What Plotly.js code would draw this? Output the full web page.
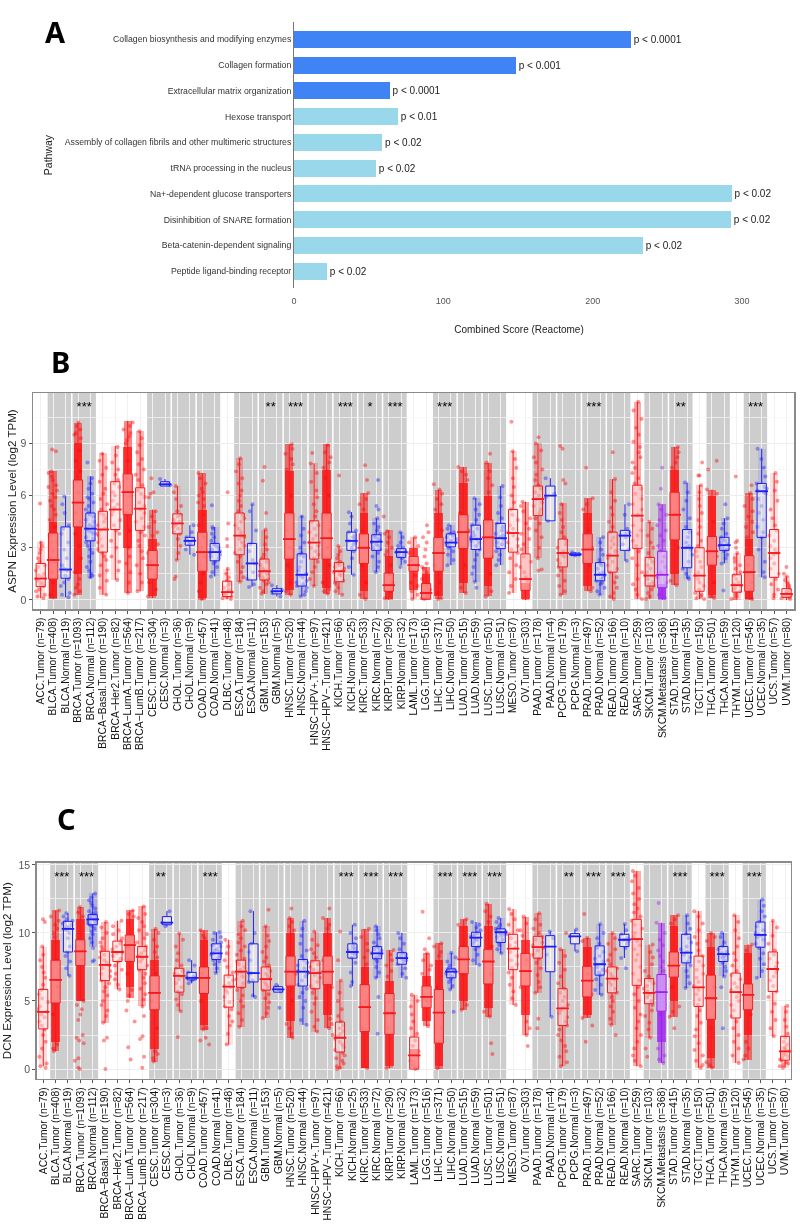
<!DOCTYPE html>
<html><head><meta charset="utf-8">
<script src="https://cdn.plot.ly/plotly-3.0.1.min.js"></script>
<style>html,body{margin:0;padding:0;background:#fff}#plot{width:800px;height:1229px;filter:blur(0.5px)}</style>
</head><body><div id="plot"></div>
<script>
// ---------- Panel A ----------
const pathways=["Collagen biosynthesis and modifying enzymes","Collagen formation","Extracellular matrix organization","Hexose transport","Assembly of collagen fibrils and other multimeric structures","tRNA processing in the nucleus","Na+-dependent glucose transporters","Disinhibition of SNARE formation","Beta-catenin-dependent signaling","Peptide ligand-binding receptor"];
const combinedScore=[225.5,148.5,64,69.5,59,54.8,293,292.5,233.5,22];
const pLabels=["p < 0.0001","p < 0.001","p < 0.0001","p < 0.01","p < 0.02","p < 0.02","p < 0.02","p < 0.02","p < 0.02","p < 0.02"];
const barColors=["#3f83f5","#3f83f5","#3f83f5","#98d8ea","#98d8ea","#98d8ea","#98d8ea","#98d8ea","#98d8ea","#98d8ea"];
// ---------- Panels B and C: categories ----------
const groups=["ACC.Tumor (n=79)","BLCA.Tumor (n=408)","BLCA.Normal (n=19)","BRCA.Tumor (n=1093)","BRCA.Normal (n=112)","BRCA−Basal.Tumor (n=190)","BRCA−Her2.Tumor (n=82)","BRCA−LumA.Tumor (n=564)","BRCA−LumB.Tumor (n=217)","CESC.Tumor (n=304)","CESC.Normal (n=3)","CHOL.Tumor (n=36)","CHOL.Normal (n=9)","COAD.Tumor (n=457)","COAD.Normal (n=41)","DLBC.Tumor (n=48)","ESCA.Tumor (n=184)","ESCA.Normal (n=11)","GBM.Tumor (n=153)","GBM.Normal (n=5)","HNSC.Tumor (n=520)","HNSC.Normal (n=44)","HNSC−HPV+.Tumor (n=97)","HNSC−HPV−.Tumor (n=421)","KICH.Tumor (n=66)","KICH.Normal (n=25)","KIRC.Tumor (n=533)","KIRC.Normal (n=72)","KIRP.Tumor (n=290)","KIRP.Normal (n=32)","LAML.Tumor (n=173)","LGG.Tumor (n=516)","LIHC.Tumor (n=371)","LIHC.Normal (n=50)","LUAD.Tumor (n=515)","LUAD.Normal (n=59)","LUSC.Tumor (n=501)","LUSC.Normal (n=51)","MESO.Tumor (n=87)","OV.Tumor (n=303)","PAAD.Tumor (n=178)","PAAD.Normal (n=4)","PCPG.Tumor (n=179)","PCPG.Normal (n=3)","PRAD.Tumor (n=497)","PRAD.Normal (n=52)","READ.Tumor (n=166)","READ.Normal (n=10)","SARC.Tumor (n=259)","SKCM.Tumor (n=103)","SKCM.Metastasis (n=368)","STAD.Tumor (n=415)","STAD.Normal (n=35)","TGCT.Tumor (n=150)","THCA.Tumor (n=501)","THCA.Normal (n=59)","THYM.Tumor (n=120)","UCEC.Tumor (n=545)","UCEC.Normal (n=35)","UCS.Tumor (n=57)","UVM.Tumor (n=80)"];
const greyPairs=[[1,2],[3,4],[9,10],[11,12],[13,14],[16,17],[18,19],[20,21],[22,23],[24,25],[26,27],[28,29],[32,33],[34,35],[36,37],[40,41],[42,43],[44,45],[46,47],[49,50],[51,52],[54,55],[57,58]];
// ---------- Panel B: ASPN ----------
const aspnLow=[.1,.05,.15,.3,1.25,.3,1.15,.4,.5,.1,6.55,2.3,2.6,0,1.35,.05,1.05,.75,.35,.2,.3,.2,.8,.35,.3,1.45,.05,1.6,0,2,.05,0,.05,2,.4,1.05,.2,2,.4,0,2.4,4.55,.3,2.55,.5,.3,.05,2.25,.05,.05,0,.85,1.2,.05,.1,2.1,0,0,1.3,.1,0];
const aspnQ1=[.77,1.2,1.25,4.2,3.4,2.75,4.05,4.9,4,1.2,6.55,3.8,3.15,1.65,2.25,.2,2.6,1.15,1.15,.35,2.35,.8,2.35,2.35,1.05,2.85,2.1,2.85,.5,2.45,1.65,.05,1.65,3.05,2.95,2.9,2.4,2.95,2.75,.55,4.85,4.55,1.9,2.55,2.1,1.1,1.6,2.85,2.95,.8,.7,3.45,1.85,.5,2,2.85,.45,.5,3.6,1.3,.15];
const aspnMed=[1.23,2.3,1.75,5.6,4.1,4.05,5.2,6.2,5.25,2,6.65,4.4,3.4,2.75,2.75,.45,3.7,2.1,1.65,.5,3.5,1.45,3.3,3.55,1.65,3.4,3,3.35,.85,2.75,2,.4,2.7,3.3,3.9,3.5,3.6,3.55,3.85,1.2,5.8,6,2.7,2.62,2.9,1.45,2.55,3.7,4.85,1.4,1.45,4.9,3,1.4,2.8,3.15,.85,1.6,6.25,2.7,.35];
const aspnQ3=[2.1,3.85,4.2,6.9,5,5.1,6.8,7.25,6.45,2.85,6.8,4.95,3.6,3.9,3.25,1.08,5,3.25,2.35,.65,5,2.65,4.55,5,2.15,3.9,3.8,3.75,1.55,2.95,2.5,.95,3.6,3.8,4.9,4.3,4.6,4.4,5.2,2.65,6.55,6.55,3.5,2.7,3.8,2.15,3.9,4,6.6,2.45,2.8,6.2,4.05,3,3.65,3.6,1.45,2.55,6.7,4.05,.65];
const aspnHigh=[3.35,7.4,5.95,10.2,7.1,8.45,8.85,10.3,9.7,5.2,6.95,6.55,4.3,7.3,4.2,1.8,8.15,5.5,4.05,.85,8.95,4.85,7.85,8.95,3.1,5.05,6.15,4.7,4,3.9,3.6,1.9,6.35,4.3,7.65,5.85,7.9,6.55,8.55,5.65,9,7,5.55,2.75,5.85,3.6,6.95,5.5,11.4,4.5,5.5,8.8,6.75,6.6,6.35,4.7,2.7,6.15,8.7,7.3,1.35];
const aspnDense=[null,[.1,4.5],null,[1.5,9],null,null,null,[3,8.8],null,[.2,3.5],null,null,null,[.1,5.2],null,null,null,null,null,null,[.6,7.4],null,null,[.7,7.5],null,null,[.5,5],null,[.05,2.5],null,[.6,3],[.05,1.5],[.2,5],null,[1,6.7],null,[.8,6],null,null,[.05,1],null,null,null,null,[.8,5],null,null,null,null,null,[.05,.9],[1.5,7.5],null,null,[.3,6],null,null,[.05,3.5],null,null,null];
const aspnPoints=[
[.1,.2,.3,.5,.6,.8,.9,1,1.1,1.2,1.3,1.4,1.5,1.7,1.9,2,2.2,2.4,2.7,2.9,3.1,3.3,5.55],
[4.6,4.9,5.2,5.4,5.7,5.9,6.1,6.3,6.5,6.6,6.9,7.1,7.3,7.4,8.55,8.65,.3,1,1.6,2.2,2.8,3.3,3.7,4.2],
[.15,.3,.4,.8,1,1.2,1.4,1.7,1.8,2,2.4,2.9,3.3,3.8,4.1,4.3,5,5.5,5.95],
[9.3,9.5,9.6,9.8,10,10.2,.3,.5,.7,.9,1.2,1.6,2.4,3.1,3.8,4.5,5,5.6,6.2,6.8,7.4,8,8.6],
[1.3,1.4,1.5,1.7,1.9,2.2,2.5,2.7,2.9,3.1,3.3,3.5,3.6,3.8,3.9,4,4.1,4.2,4.3,4.5,4.6,4.8,4.9,5,5.2,5.4,5.6,5.8,5.9,6.1,6.4,6.7,7,7.9],
[.3,.7,1.1,1.4,1.7,2,2.3,2.5,2.7,2.9,3.1,3.3,3.5,3.7,3.8,4,4.1,4.3,4.5,4.7,4.9,5,5.2,5.5,5.8,6.1,6.4,6.8,7.2,7.6,8,8.4],
[1.15,1.7,2.2,2.5,3,3.4,3.8,4,4.3,4.6,4.9,5.1,5.3,5.5,5.7,6,6.2,6.5,6.7,6.9,7.2,7.5,7.9,8.3,8.8],
[.4,1,1.6,2.1,2.5,3,9,9.2,9.4,9.6,9.8,10,10.2,4,5,6,7,8],
[.5,1,1.5,2,2.4,2.8,3.1,3.4,3.7,3.9,4.2,4.5,4.7,5,5.2,5.4,5.6,5.9,6.1,6.3,6.6,6.9,7.2,7.5,7.8,8.1,8.5,8.9,9.3,9.7],
[3.7,3.9,4.2,4.5,4.8,5.1,5.9,6.1,6.2,7,.2,.6,1,1.4,1.8,2.2,2.7,3.2],
[6.6,6.7,6.95],
[1.2,1.35,2.3,2.7,3.1,3.5,3.8,3.9,4.1,4.2,4.3,4.4,4.5,4.6,4.8,4.9,5.1,5.4,5.8,6.2,6.55],
[2.6,2.9,3.2,3.3,3.4,3.5,3.6,3.9,4.3],
[5.4,5.6,5.8,6,6.2,6.4,6.7,7,7.3,.05,.5,1,1.5,2,2.5,3,3.6,4.3,4.9],
[1.35,1.6,1.9,2.1,2.2,2.4,2.5,2.6,2.7,2.8,2.9,3,3.1,3.2,3.4,3.6,3.8,4.1,4.2,5.45],
[.05,.1,.15,.2,.3,.35,.4,.45,.5,.6,.7,.8,.9,1,1.1,1.3,1.5,1.8,3.1,3.5,4.4,6.2],
[1.05,1.3,1.6,1.9,2.2,2.5,2.7,2.9,3.1,3.3,3.5,3.6,3.7,3.9,4.1,4.3,4.5,4.7,4.9,5.1,5.4,5.7,6,6.3,6.7,7,7.4,7.8,8.15],
[.75,.9,1.2,1.6,2.1,2.3,2.8,3.2,4,5.1,5.5],
[.35,.5,.7,.9,1,1.1,1.2,1.3,1.4,1.5,1.6,1.7,1.8,2,2.2,2.4,2.6,2.9,3.2,3.6,4.05,5,6.85,7.65],
[.2,.4,.5,.6,.85],
[7.5,7.8,8.1,8.4,8.7,8.95,.3,.5,1,2,3,4,5,6],
[.2,.3,.5,.7,.8,.9,1,1.1,1.3,1.4,1.5,1.7,1.9,2.2,2.5,2.6,2.7,3,3.3,3.7,4.1,4.8],
[.8,1.2,1.6,1.9,2.2,2.4,2.6,2.8,3,3.1,3.3,3.5,3.7,3.9,4.1,4.3,4.5,4.8,5.1,5.5,5.9,6.3,6.8,7.3,7.85,8.45],
[7.6,7.9,8.2,8.5,8.9,.35,.5,.6,1,2,3,4,5,6,7],
[.3,.5,.7,.9,1,1.1,1.2,1.4,1.5,1.6,1.7,1.8,1.9,2,2.1,2.2,2.4,2.6,2.8,3.1,7.15],
[1.45,1.9,2.4,2.8,3,3.2,3.3,3.4,3.5,3.6,3.7,3.9,4,4.4,4.8,5.05],
[.05,.3,5.2,5.5,5.8,6.15,6.9,7.75,1,2,3,4],
[1.6,1.9,2.2,2.5,2.7,2.9,3,3.1,3.2,3.3,3.4,3.5,3.6,3.7,3.8,4,4.2,4.4,4.7,5.2,5.4,6.9],
[2.6,2.8,3,3.3,3.6,3.8,3.95,4.8,.1,.5,1,1.5,2],
[1.9,2.2,2.4,2.5,2.6,2.7,2.75,2.8,2.9,3,3.1,3.3,3.6,3.9],
[.05,.3,.5,.8,1,3.1,3.3,3.6,1.4,1.8,2,2.3,2.7],
[.05,.1,.2,.3,.6,.9,1.6,1.8,1.9,2.1,2.5,2.9,3.3,3.6,3.9,4.3,1.2],
[.05,.1,.4,5.2,5.5,5.8,6.1,6.35,6.65,1,2,3,4],
[2,2.3,2.6,2.8,3,3.1,3.2,3.3,3.4,3.5,3.6,3.7,3.8,3.9,4.1,4.3],
[.4,.7,6.9,7.2,7.4,7.65,2,3,4,5],
[.7,1.05,1.5,1.9,2.3,2.6,2.9,3.1,3.3,3.4,3.5,3.6,3.7,3.9,4.1,4.3,4.6,4.9,5.2,5.5,5.85],
[.2,.5,6.2,6.6,7,7.4,7.9,8.4,1.5,2.5,3.5,4.5],
[2,2.3,2.6,2.8,3,3.2,3.3,3.5,3.6,3.7,3.8,4,4.2,4.4,4.7,5,5.4,5.9,6.55],
[.4,.8,1.2,1.6,2,2.4,2.7,2.9,3.1,3.3,3.5,3.7,3.9,4.1,4.3,4.6,4.9,5.2,5.6,6,6.5,7,7.6,8.1,8.55,10.25],
[1.1,1.3,1.6,1.9,2.2,2.5,2.9,3.2,3.5,3.8,4.1,4.4,4.7,5.1,5.4,5.65],
[1.7,1.75,2.4,3,3.6,4,4.4,4.7,5,5.2,5.4,5.6,5.8,6,6.2,6.4,6.6,6.9,7.2,7.5,7.9,8.2,8.6,9,9.35],
[4.55,5.9,6.1,7],
[.3,.5,.8,1.1,1.4,1.7,1.9,2.1,2.3,2.5,2.6,2.8,3,3.2,3.4,3.6,3.9,4.2,4.6,5,5.5,6.7,6.9,8.7,8.85],
[2.55,2.62,2.75],
[.5,.7,5.2,5.5,5.85,7.6,2,3,4],
[.3,.5,.7,.9,1,1.1,1.2,1.3,1.4,1.5,1.6,1.8,2,2.1,2.3,2.6,2.9,3.3,3.6],
[.05,.2,.4,.7,1,1.3,1.6,1.8,2,2.2,2.4,2.6,2.8,3,3.2,3.4,3.6,3.9,4.2,4.5,4.9,5.3,5.7,6.2,6.95,8.5],
[2.25,2.9,3.2,3.6,3.7,3.8,3.9,4.1,4.9,5.5],
[.05,.3,.6,.9,1.2,1.6,2,2.4,2.8,3.1,3.4,3.7,4,4.3,4.6,4.9,5.2,5.5,5.8,6.1,6.4,6.7,7,7.3,7.6,7.9,8.2,8.5,8.8,9.1,9.5,9.9,10.4,10.9,11.4],
[.05,.2,.4,.6,.8,.9,1,1.2,1.4,1.6,1.8,2,2.2,2.4,2.7,3,3.3,3.7,4.1,4.5],
[.1,.3,1,1.3,1.6,1.9,2.2,2.5,2.8,3.1,3.4,3.7,4,4.3,4.6,4.9,5.2,5.5,6.4,7.6],
[.85,1.1,7.6,7.9,8.2,8.5,8.8,3,5],
[1.2,1.3,1.5,1.8,2.2,2.6,2.9,3,3.1,3.3,3.6,3.9,4.2,4.7,5.2,5.7,6.2,6.75],
[.05,.1,.2,.3,.4,.6,.8,1,1.2,1.4,1.6,1.9,2.2,2.5,2.8,3.1,3.4,3.8,4.2,4.6,5,5.4,5.8,6.2,6.6,7.15,7.15,7.9],
[6.1,6.35,7.5,8,.1,.2,1,2.5,4.5],
[.55,2.1,2.4,2.6,2.8,2.9,3,3.1,3.2,3.3,3.4,3.5,3.6,3.8,4.1,4.4,4.7,5.5],
[.05,.1,.2,.3,.4,.5,.6,.7,.8,.9,1,1.2,1.4,1.6,1.8,2,2.2,2.4,2.7,3,3.3,3.4,7.1],
[3.6,3.9,4.2,4.5,4.8,5.1,5.4,5.8,6.15,6.6,.05,1,2],
[1.3,1.6,2.2,2.9,3.6,3.9,4.2,4.6,5,5.4,5.8,6.1,6.2,6.3,6.4,6.5,6.7,7.1,7.6,8.1,8.7],
[.1,.3,.6,.9,1.2,1.5,1.8,2.1,2.4,2.6,2.7,2.9,3.1,3.4,3.7,4,4.3,4.7,5.2,5.7,6.3,6.8,7.3],
[.05,.1,.15,.2,.25,.3,.35,.4,.5,.6,.7,.8,.9,1,1.15,1.35,1.5,1.9]];
const aspnStarX=[3.5,18.5,20.5,24.5,26.5,28.5,32.5,44.5,51.5,57.5];
const aspnStars=["***","**","***","***","*","***","***","***","**","***"];
// ---------- Panel C: DCN ----------
const dcnLow=[.2,1.3,6.85,5,9,3.4,5.85,5.2,4.6,.55,10.5,4.25,6.3,2.9,7.05,1.8,3.1,5.3,3.75,5.65,2.3,3.25,2.75,3,0,6.1,.05,6.7,.05,6.7,0,3.15,0,5.85,4.35,7.65,3.85,8.5,4.7,2.5,5.6,3.85,.2,8.65,3.75,5.45,3.25,8.15,.2,2.3,.45,3.85,5.95,.1,.1,6.8,.45,.7,6.7,2.4,.1];
const dcnQ1=[2.95,4.85,8.6,7.6,10.6,6.5,7.9,7.9,7.3,4.35,10.6,5.65,6.55,5.55,8.05,4.55,6,6.4,5.8,5.65,6.1,6.1,5.9,6.2,1.25,8.15,2.75,8.1,2.55,7.7,0,4.5,1.9,6.7,7,9,6.25,9.3,7.3,6.1,8.15,7.15,3.2,9.2,5.3,6.9,5.6,9,6.15,4.8,4.25,6.75,7.8,4.6,3.65,7.9,3.75,4.35,8.95,5.7,.65];
const dcnMed=[4.2,6.55,10.3,8.65,11,7.65,8.6,9.1,8.25,5.6,10.75,6.85,6.7,6.7,8.5,6.05,7.15,7.05,6.6,5.85,7.15,7.15,7.05,7.15,2.3,8.6,4.55,8.5,4.1,8.15,1,5.3,4.15,7.15,8.05,9.65,7.9,10.05,8.85,7.2,8.95,9,4.45,9.75,6.5,7.7,6.65,9.5,9.55,5.6,5.65,7.6,8.55,6,5.2,8.45,5.65,5.45,9.85,7.35,1.3];
const dcnQ3=[5.85,8,10.85,9.5,11.35,8.65,9.4,9.85,9,6.85,11.2,7.4,7.1,7.5,9.2,6.9,8,9.2,7.5,6.05,8.3,8.05,7.95,8.3,3.45,9.2,6.2,9,5.55,8.55,2.35,6.1,5.85,7.35,9,10.05,8.8,10.3,9.9,8.5,9.75,9.8,5.9,9.95,7.55,9.05,7.5,9.9,11,6.65,6.95,8.6,9.9,8.3,6.9,9,7.05,6.25,10.8,8.6,2.4];
const dcnHigh=[9,11.65,11.45,11.9,12.9,10.8,10.9,11.65,11.95,10.3,11.6,9.95,8,10.2,10.05,9.5,10.9,11.6,10.5,6.2,11.1,10.9,10.1,11.1,6.5,10.6,10.3,10.5,8.75,10,5.45,8.5,9.25,8.55,11,10.8,12.15,11.1,11.75,11.2,11.45,10.1,8.8,10.25,9.65,10.65,10,10.65,14.55,9.15,10.75,11.3,11.3,11.6,10,10,11.3,9.15,12.45,10.9,4.65];
const dcnDense=[null,[2,9.5],null,[5,11],null,null,null,[6,11],null,[1.5,8],null,null,null,[3.2,9.5],null,null,null,null,null,null,[3.5,10],null,null,[4,10],null,null,[.1,7.5],null,[.2,6.5],null,[.05,1.5],[3.5,6.8],[.2,8],null,[5,10.5],null,[4.5,10.5],null,null,[4,9.5],null,null,null,null,[4,9],null,null,null,null,null,[2,7],[5,10.5],null,null,[.8,9],null,null,[2.5,8.5],null,null,null];
const dcnPoints=[
[.1,.2,.4,.9,1.5,2,2.5,2.9,3.2,3.5,3.8,4,4.2,4.4,4.6,4.9,5.2,5.5,5.8,6.2,6.7,7.1,7.5,8,8.4,9,10.8,11],
[1.3,1.5,1.8,9.7,10,10.3,10.6,10.9,11.2,11.65,4,6,8],
[6.85,7.4,7.9,8.3,8.6,9,9.6,10,10.2,10.3,10.4,10.5,10.6,10.7,10.8,10.9,11,11.2,11.45],
[0,.1,.6,.8,1.9,2.1,2.3,2.5,3.6,4,4.4,4.7,5,11.2,11.5,11.9,8,9],
[7.9,8,8.9,9.3,9.6,9.9,10.1,10.3,10.5,10.6,10.7,10.8,10.9,11,11,11.1,11.2,11.3,11.4,11.5,11.6,11.8,12,12.2,12.4,12.6,12.9],
[0,2.1,2.3,3.4,3.9,4.3,4.7,5,5.4,5.7,6,6.3,6.5,6.8,7,7.2,7.4,7.6,7.8,8,8.2,8.4,8.6,8.8,9,9.3,9.6,10,10.4,10.8],
[5.85,6.2,6.6,7,7.3,7.6,7.9,8.1,8.3,8.5,8.6,8.8,9,9.2,9.4,9.6,9.9,10.2,10.5,10.9],
[.7,1.6,3.5,4.3,5,5.4,5.8,7,8,9,11.2,11.4,11.65],
[.1,.9,2.2,2.4,3.9,4.6,5.1,5.5,5.9,6.3,6.7,7,7.3,7.6,7.9,8.1,8.3,8.5,8.7,9,9.3,9.6,9.9,10.2,10.5,10.8,11.1,11.4,11.95],
[.55,.8,1.1,1.3,8.2,8.6,9,9.5,10,10.3,3,5,7],
[10.5,10.75,11.6],
[2.35,4.25,4.7,5.1,5.5,5.7,6,6.3,6.6,6.8,6.9,7,7.2,7.4,7.6,8,8.5,9,9.5,9.95],
[6.3,6.5,6.6,6.7,6.7,6.8,7.1,7.6,8],
[1.8,2.1,2.3,2.9,3,9.6,9.8,10.2,5,7],
[7.05,7.4,7.7,7.9,8,8.2,8.3,8.4,8.5,8.6,8.7,8.8,9,9.1,9.3,9.5,9.7,10,10.05],
[1.8,2.6,3.2,3.5,3.9,4.4,4.6,4.9,5.3,5.6,5.8,6,6.1,6.3,6.5,6.8,7.1,7.5,8,8.5,9,9.5],
[3.1,3.6,4.1,4.6,5,5.4,5.8,6,6.3,6.6,6.8,7,7.1,7.3,7.5,7.7,7.9,8.1,8.4,8.7,9,9.3,9.6,9.9,10.2,10.5,10.9],
[5.3,5.4,6.4,6.5,7,7.05,8,8.6,9.2,10,11.6],
[3.75,4.1,4.5,4.9,5.2,5.5,5.8,6,6.2,6.4,6.6,6.8,7,7.2,7.4,7.6,7.9,8.2,8.6,9,9.4,9.8,10.5,11.7],
[4.5,5.7,5.85,6,6.2],
[2.3,2.6,3,3.3,10.2,10.5,10.8,11.1,11.8,7,5],
[3.25,3.6,4.5,5,5.3,5.6,5.9,6.2,6.5,6.8,7,7.1,7.2,7.4,7.6,7.8,8,8.3,8.7,9.2,9.8,10.3,10.9],
[2.75,3.1,3.6,4.2,4.8,5.2,5.6,5.9,6.1,6.4,6.7,6.9,7.1,7.3,7.5,7.7,7.9,8.2,8.5,8.8,9.1,9.5,10.1],
[2.5,3,3.3,3.7,10.3,10.6,11.1,11.8,6,8],
[0,.1,.2,.4,.6,.8,1,1.2,1.4,1.6,1.8,2,2.2,2.4,2.6,2.8,3,3.2,3.5,3.9,4.4,5,5.6,6.5,8,10.1],
[6.1,6.4,7.1,7.8,8.2,8.4,8.5,8.6,8.7,8.8,8.9,9,9.2,9.6,10,10.6],
[.05,7.7,8.2,8.7,9.2,9.7,10.3,3,5],
[2.6,5.3,6.7,7.1,7.5,7.9,8.1,8.2,8.3,8.4,8.5,8.6,8.7,8.8,8.9,9,9.3,9.6,9.9,10.2,10.5],
[.05,6.8,7.2,7.6,8,8.4,8.75,3,5],
[6.7,7,7.4,7.7,7.9,8,8.1,8.2,8.3,8.4,8.5,8.8,9.2,9.6,10],
[0,.1,.3,1.7,2.1,2.6,3,3.5,4,4.6,5,5.45,.6,1,1.3],
[3.15,7,7.3,7.6,8,8.5,8.8,9.6,11.55,5],
[.05,8.3,8.6,9,9.25,3,6],
[4.2,5.85,6.1,6.4,6.6,6.8,6.9,7,7.1,7.2,7.3,7.4,7.6,7.9,8.2,8.55],
[4.35,4.7,10.6,11,7,9],
[7.65,8,8.4,8.8,9,9.2,9.4,9.5,9.6,9.7,9.8,9.9,10,10.2,10.4,10.6,10.8],
[1.1,1.9,3.85,4.2,10.8,11.2,11.6,12.15,7,9],
[8.5,8.8,9.1,9.3,9.5,9.7,9.8,9.9,10,10.1,10.2,10.3,10.4,10.6,10.8,11.1],
[4.7,5.2,5.7,6.2,6.7,7.1,7.4,7.7,8,8.3,8.6,8.9,9.1,9.3,9.6,9.9,10.2,10.6,11,11.4,11.75],
[1.7,2.5,3,3.5,9.8,10.2,10.7,11.2,6,8],
[3,3.7,5.6,6,6.4,6.9,7.4,7.8,8.1,8.4,8.7,8.9,9.1,9.3,9.5,9.7,10,10.3,10.6,11,11.45],
[3.85,8.4,9.6,10.1],
[.2,.5,.9,1.3,1.7,2.1,2.5,2.9,3.2,3.5,3.8,4.1,4.3,4.5,4.7,5,5.3,5.6,5.9,6.3,6.8,7.3,7.8,8.3,8.8,10],
[8.65,9.75,10.25],
[2,3.2,3.75,9.4,9.65,11.4,7,5.5],
[5.45,5.8,6.2,6.6,6.9,7.1,7.3,7.5,7.7,7.9,8.1,8.3,8.6,8.9,9.2,9.6,10,10.65],
[2.5,3.25,3.7,4.2,4.6,5,5.3,5.6,5.9,6.2,6.4,6.6,6.8,7,7.2,7.4,7.7,8,8.4,8.8,9.2,9.6,10],
[7.4,8.15,8.9,9.2,9.4,9.5,9.6,9.9,10.2,10.65],
[.2,.6,1,1.5,2,2.5,3,3.5,4,4.5,5,5.5,6,6.5,7,7.5,8,8.4,8.8,9.1,9.4,9.7,10,10.3,10.6,10.9,11.2,11.5,11.8,12.1,12.5,12.9,13.3,13.8,14.2,14.55],
[.9,1.5,2.3,2.9,3.4,3.9,4.3,4.7,5,5.3,5.5,5.7,5.9,6.1,6.3,6.5,6.8,7.2,7.7,8.2,8.6,9.15],
[.45,.7,1,1.5,7.2,7.5,7.9,8.3,8.7,9.1,9.5,10,10.75,12.2,4],
[3,3.85,4.2,4.6,10.7,11,11.3,6,8],
[5.95,6.3,6.8,7.2,7.6,7.9,8.2,8.4,8.6,8.8,9,9.3,9.6,9.9,10.3,10.7,11.3],
[.1,.3,.6,1,1.4,1.9,2.4,2.9,3.4,3.9,4.3,4.7,5.1,5.5,5.8,6.1,6.4,6.7,7,7.3,7.6,7.9,8.3,8.7,9.2,9.7,10.2,10.7,11.2,11.6],
[.1,.3,.5,9.4,9.7,10,6,3],
[3,6,6.8,7.2,7.5,7.8,8,8.2,8.3,8.4,8.5,8.6,8.8,9,9.3,9.7,10],
[.45,1,1.5,2,2.5,3,3.5,3.9,4.3,4.7,5,5.3,5.6,5.8,6,6.3,6.6,6.9,7.2,7.6,8,8.5,9,9.6,10.2,10.8,11.3],
[.7,1,1.5,2,8.7,9.15,4,6],
[6.7,7.2,7.7,8.1,8.5,8.9,9.2,9.5,9.7,9.8,9.9,10,10.2,10.5,10.8,11.2,11.6,12,12.45],
[2.4,3,3.6,4.2,4.8,5.3,5.7,6.1,6.5,6.8,7.1,7.3,7.5,7.8,8.1,8.4,8.7,9.2,9.8,10.4,10.9],
[.1,.2,.3,.4,.5,.6,.7,.8,.9,1,1.1,1.2,1.3,1.4,1.5,1.6,1.8,2,2.3,2.6,3.1,3.6,4.2,4.65]];
const dcnStarX=[1.5,3.5,9.5,13.5,24.5,26.5,28.5,32.5,34.5,36.5,42.5,44.5,46.5,51.5,54.5,57.5];
const dcnStars=["***","***","**","***","***","***","***","***","***","***","**","***","***","***","***","***"];

// ---------- Page geometry (pixels) ----------
const W=800,H=1229;
const dx=(a,b)=>[a/W,b/W], dy=(top,bot)=>[1-bot/H,1-top/H];
const FONT="Liberation Sans, Arial, sans-serif";
const kinds=[{key:"Tumor",color:"rgb(245,25,30)",point:"rgb(255,0,0)",rgb:"255,10,10"},
             {key:"Normal",color:"rgb(30,30,245)",point:"rgb(30,30,255)",rgb:"30,30,255"},
             {key:"Metastasis",color:"rgb(160,32,240)",point:"rgb(160,32,240)",rgb:"160,32,240"}];
const kindOf=g=>g.includes("Normal")?"Normal":g.includes("Metastasis")?"Metastasis":"Tumor";
const idx=groups.map((_,i)=>i);
const sampleSize=groups.map(g=>+g.match(/n=(\d+)/)[1]);

function panelTraces(ax,ay,low,q1,med,q3,high,dense,points,starX,stars,starY){
  const t=[],tag={xaxis:ax,yaxis:ay,showlegend:false,hoverinfo:"skip"};
  // pale tint over the whisker span, stronger for larger groups
  kinds.forEach(k=>{
    const ids=idx.filter(i=>kindOf(groups[i])===k.key&&sampleSize[i]>=30);
    t.push({...tag,type:"bar",x:ids,base:ids.map(i=>low[i]),y:ids.map(i=>high[i]-low[i]),width:0.62,marker:{color:ids.map(i=>`rgba(${k.rgb},${Math.min(.5,.06+sampleSize[i]/900).toFixed(2)})`),line:{width:0}}});
  });
  // solid part of the crowded point clouds
  kinds.forEach(k=>{
    const ids=idx.filter(i=>kindOf(groups[i])===k.key&&dense[i]);
    if(ids.length) t.push({...tag,type:"bar",x:ids,base:ids.map(i=>dense[i][0]),y:ids.map(i=>dense[i][1]-dense[i][0]),width:0.68,marker:{color:`rgba(${k.rgb},0.72)`,line:{width:0}}});
  });
  kinds.forEach(k=>{
    const ids=idx.filter(i=>kindOf(groups[i])===k.key);
    const xs=[],ys=[];
    ids.forEach(i=>points[i].forEach(v=>{xs.push(i);ys.push(v);}));
    t.push({...tag,type:"box",x:xs,y:ys,boxpoints:"all",jitter:1,pointpos:0,width:0.9,fillcolor:"rgba(0,0,0,0)",line:{width:0,color:"rgba(0,0,0,0)"},marker:{color:k.point,size:4,opacity:0.42,line:{width:0}}});
  });
  kinds.forEach(k=>{
    const ids=idx.filter(i=>kindOf(groups[i])===k.key);
    t.push({...tag,type:"box",x:ids,q1:ids.map(i=>q1[i]),median:ids.map(i=>med[i]),q3:ids.map(i=>q3[i]),lowerfence:ids.map(i=>low[i]),upperfence:ids.map(i=>high[i]),boxpoints:false,whiskerwidth:0,width:0.74,fillcolor:"rgba(255,255,255,0.42)",line:{color:k.color,width:1}});
    t.push({...tag,type:"scatter",mode:"markers",x:ids,y:ids.map(i=>med[i]),marker:{symbol:"line-ew",size:9,color:k.color,line:{color:k.color,width:1.8}}});
  });
  t.push({...tag,type:"scatter",mode:"text",x:starX,y:starX.map(()=>starY),text:stars,textposition:"middle center",textfont:{size:13,color:"#000",family:FONT}});
  return t;
}

const traceA={type:"bar",orientation:"h",x:combinedScore,y:pathways,xaxis:"x",yaxis:"y",width:0.66,marker:{color:barColors,line:{width:0}},text:pLabels,textposition:"outside",textangle:0,constraintext:"none",cliponaxis:false,textfont:{size:10,color:"#222",family:FONT},showlegend:false,hoverinfo:"skip"};

const data=[traceA,
 ...panelTraces("x2","y2",aspnLow,aspnQ1,aspnMed,aspnQ3,aspnHigh,aspnDense,aspnPoints,aspnStarX,aspnStars,11.05),
 ...panelTraces("x3","y3",dcnLow,dcnQ1,dcnMed,dcnQ3,dcnHigh,dcnDense,dcnPoints,dcnStarX,dcnStars,14.05)];

const bands=(ax,ay)=>greyPairs.map(p=>({type:"rect",xref:ax,yref:ay+" domain",x0:p[0]-.44,x1:p[1]+.44,y0:0,y1:1,fillcolor:"#cdcdcd",line:{width:0},layer:"below"}));
const catX=(domain,range)=>({domain,range,type:"linear",tickmode:"array",tickvals:idx,ticktext:groups,tickangle:-90,tickfont:{size:10.3,color:"#111",family:FONT},ticks:"outside",ticklen:3,tickcolor:"#555",showgrid:true,gridcolor:"#f1f1f1",gridwidth:1,zeroline:false,showline:true,mirror:true,linecolor:"#8a8a8a",linewidth:1.5,automargin:false});
const valY=(domain,range,title,vals,minorStep,anchor,standoff)=>({domain,range,anchor,tickmode:"array",tickvals:vals,ticktext:vals.map(String),tickfont:{size:10.5,color:"#555",family:FONT},ticks:"outside",ticklen:3,tickcolor:"#555",showgrid:true,gridcolor:"#eeeeee",gridwidth:1,minor:{dtick:minorStep,tick0:0,showgrid:true,gridcolor:"#f6f6f6",gridwidth:.7,ticks:""},zeroline:false,showline:true,mirror:true,linecolor:"#8a8a8a",linewidth:1.5,automargin:false,title:{text:title,font:{size:11.6,color:"#222",family:FONT},standoff}});

const layout={width:W,height:H,margin:{l:0,r:0,t:0,b:0,pad:0},paper_bgcolor:"#fff",plot_bgcolor:"#fff",barmode:"overlay",bargap:0,boxmode:"overlay",showlegend:false,font:{family:FONT},
 xaxis:{domain:dx(294,744),range:[0,(744-294)/1.4933],anchor:"y",tickmode:"array",tickvals:[0,100,200,300],ticks:"outside",ticklen:4,tickcolor:"rgba(0,0,0,0)",tickfont:{size:9,color:"#555",family:FONT},showgrid:false,zeroline:false,showline:false,automargin:false,title:{text:"Combined Score (Reactome)",font:{size:10,color:"#222",family:FONT},standoff:21}},
 yaxis:{domain:dy(22,288),range:[9.66,-.67],type:"category",anchor:"x",categoryorder:"array",categoryarray:pathways,ticks:"",tickfont:{size:8.7,color:"#333",family:FONT},showgrid:false,zeroline:false,showline:true,linecolor:"#777",linewidth:1,automargin:false,title:{text:"Pathway",font:{size:10.5,color:"#222",family:FONT},standoff:10}},
 xaxis2:{...catX(dx(33,794),[-.62,60.6]),anchor:"y2"},
 yaxis2:valY(dy(393,609),[-.52,11.9],"ASPN Expression Level (log2 TPM)",[0,3,6,9],1.5,"x2",1),
 xaxis3:{...catX(dx(36.7,790.7),[-.53,60.45]),anchor:"y3"},
 yaxis3:valY(dy(862.7,1078.7),[-.71,15.16],"DCN Expression Level (log2 TPM)",[0,5,10,15],2.5,"x3",4),
 shapes:[...bands("x2","y2"),...bands("x3","y3")],
 annotations:[["A",55,32],["B",60,361],["C",66,818]].map(a=>({text:a[0],x:a[1]/W,y:1-a[2]/H,xref:"paper",yref:"paper",showarrow:false,font:{size:29,color:"#000",family:"Noto Sans, Open Sans, sans-serif",weight:700},xanchor:"center",yanchor:"middle"}))
};
Plotly.newPlot("plot",data,layout,{staticPlot:true,displayModeBar:false});
</script></body></html>
